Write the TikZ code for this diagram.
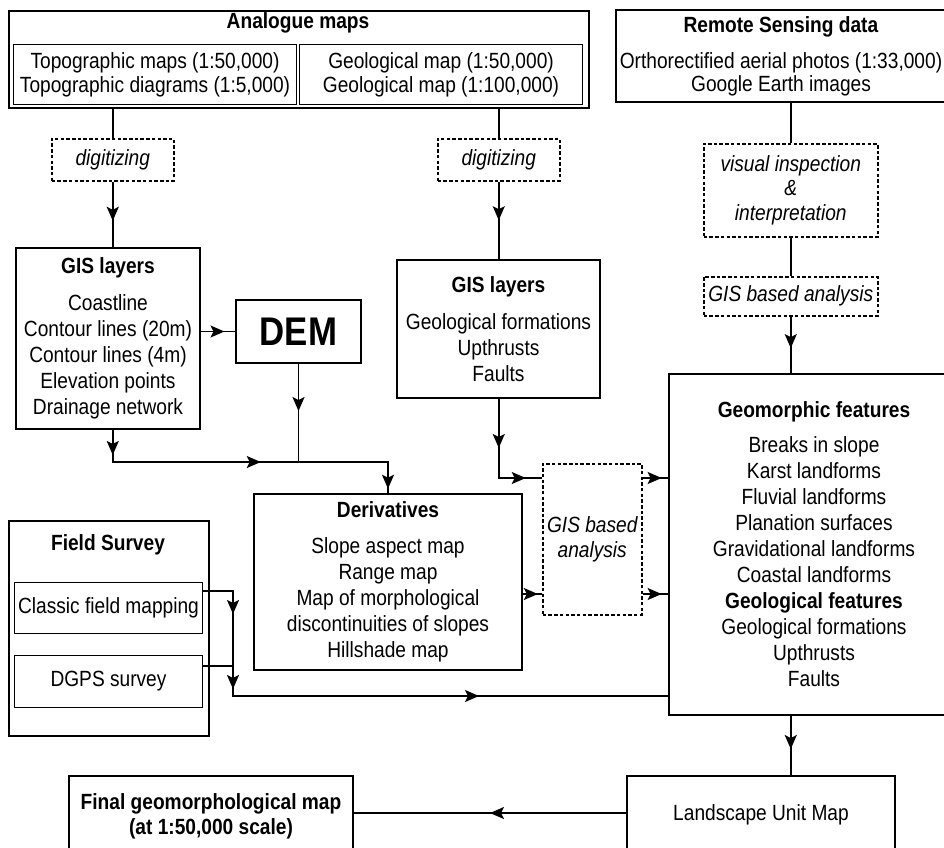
\documentclass[tikz,border=0pt]{standalone}
\usepackage{fontspec}
\setmainfont[FakeStretch=0.87]{Liberation Sans}
\usetikzlibrary{arrows.meta,decorations.markings}
\tikzset{
  sz/.style 2 args={minimum width=#1pt, minimum height=#2pt},
  bx/.style={draw, line width=2pt, inner sep=0pt, align=center, anchor=north west},
  ibx/.style={draw, line width=1.1pt, inner sep=0pt, align=center, anchor=north west, font=\fontsize{22}{24}\selectfont},
  tbx/.style={draw, line width=1pt, inner sep=0pt, align=center, anchor=north west},
  dbx/.style={draw, line width=1.5pt, dash pattern=on 3.5pt off 2.2pt, inner sep=0pt, align=center, anchor=north west, font=\fontsize{22}{25}\selectfont\itshape},
  ttl/.style={inner sep=0pt, font=\fontsize{22}{26}\selectfont\bfseries},
  conn/.style={line width=1.8pt},
  marr/.style={postaction={decorate, decoration={markings, mark=at position #1 with {\arrow{Stealth[length=14pt,width=12pt,inset=3pt]}}}}}
}
\begin{document}
\begin{tikzpicture}[x=1pt, y=-1pt, font=\fontsize{22}{26}\selectfont]
\useasboundingbox (0,0) rectangle (944,847);

% top boxes
\node[bx, sz={580}{97}] (anal) at (8,10) {};
\node[ttl] (analT) at (298,23) {Analogue maps};
\node[ibx, sz={283}{60}] (topo) at (13,44) {Topographic maps (1:50,000)\\Topographic diagrams (1:5,000)};
\node[ibx, sz={283}{60}] (geol) at (299,44) {Geological map (1:50,000)\\Geological map (1:100,000)};
\node[bx, sz={330}{92}, font=\fontsize{22}{23}\selectfont] (rs) at (615,9) {\textbf{Remote Sensing data}\\[13pt]Orthorectified aerial photos (1:33,000)\\Google Earth images};

% digitizing
\node[dbx, sz={122}{42}] (digL) at (51,138) {digitizing};
\node[dbx, sz={122}{42}] (digR) at (437,138) {digitizing};

% GIS layers
\node[bx, sz={184}{181}] (gisL) at (15,247) {\textbf{GIS layers}\\[11pt]Coastline\\Contour lines (20m)\\Contour lines (4m)\\Elevation points\\Drainage network};
\node[bx, sz={125}{63}, font=\fontsize{40}{40}\selectfont\bfseries] (DEM) at (235,299) {DEM};
\node[bx, sz={203}{138}] (gisR) at (396,259) {\textbf{GIS layers}\\[11pt]Geological formations\\Upthrusts\\Faults};

% derivatives
\node[bx, sz={268}{176}] (deriv) at (253,493) {\textbf{Derivatives}\\[10pt]Slope aspect map\\Range map\\Map of morphological\\discontinuities of slopes\\Hillshade map};

% field survey
\node[bx, sz={200}{215}] (field) at (8,520) {};
\node[ttl] (fieldT) at (108,545) {Field Survey};
\node[tbx, sz={188}{51}] (classic) at (14,582) {Classic field mapping};
\node[tbx, sz={188}{52}] (dgps) at (14,655) {DGPS survey};

% GIS based analysis (middle)
\node[dbx, sz={99}{151}] (gisb) at (542,463) {GIS based\\analysis};

% remote sensing chain
\node[dbx, sz={174}{93}, font=\fontsize{22}{24.5}\selectfont\itshape] (vis) at (703,143) {visual inspection\\\&\\interpretation};
\node[dbx, sz={174}{39}] (gisb2) at (703,276) {GIS based analysis};

% geomorphic features
\node[bx, sz={290}{341}] (geo) at (668,373) {\textbf{Geomorphic features}\\[9pt]Breaks in slope\\Karst landforms\\Fluvial landforms\\Planation surfaces\\Gravidational landforms\\Coastal landforms\\\textbf{Geological features}\\Geological formations\\Upthrusts\\Faults};

% bottom
\node[bx, sz={268}{78}] (land) at (626,775) {Landscape Unit Map};
\node[bx, sz={284}{80}, font=\fontsize{22}{25}\selectfont\bfseries] (final) at (68,775) {Final geomorphological map\\(at 1:50,000 scale)};

\coordinate (jA) at (298,462);
\coordinate (jB) at (233,696);

% connectors
\draw[conn] (digL.north |- anal.south) -- (digL.north);
\draw[conn, marr=0.6] (digL.south) -- (digL.south |- gisL.north);
\draw[conn] (digR.north |- anal.south) -- (digR.north);
\draw[conn, marr=0.5] (digR.south) -- (digR.south |- gisR.north);
\draw[conn, marr=0.69] (gisL.east |- DEM.west) -- (DEM.west);
\draw[conn, marr=0.48] (DEM.south) -- (DEM.south |- jA);
\draw[conn, marr=25pt, marr=180pt, marr=334pt] (digL.south |- gisL.south) |- (jA) -| (deriv.north);
\draw[conn, marr=49pt, marr=106pt] (digR.south |- gisR.south) |- (gisb.west |- 0,478);
\draw[conn, marr=0.75] (gisb.east |- 0,478) -- (geo.west |- 0,478);
\draw[conn, marr=0.75] (gisb.east |- 0,594) -- (geo.west |- 0,594);
\draw[conn, marr=0.78] (deriv.east |- 0,594) -- (gisb.west |- 0,594);
\draw[conn, marr=53pt, marr=128pt, marr=381pt] (classic.east |- 0,591) -| (jB) -- (geo.west |- jB);
\draw[conn] (dgps.east |- 0,666) -- (jB |- 0,666);
\draw[conn] (vis.north |- rs.south) -- (vis.north);
\draw[conn] (vis.south) -- (gisb2.north);
\draw[conn, marr=0.56] (gisb2.south) -- (gisb2.south |- geo.north);
\draw[conn, marr=0.56] (vis.center |- geo.south) -- (vis.center |- land.north);
\draw[conn, marr=0.5] (land.west |- 0,813) -- (final.east |- 0,813);
\end{tikzpicture}
\end{document}
